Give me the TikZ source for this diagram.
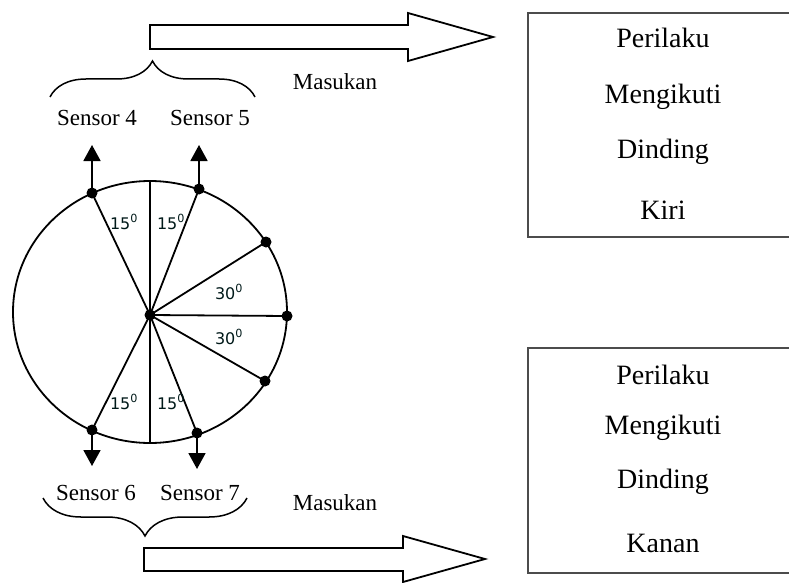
\documentclass[tikz,border=0pt]{standalone}
\usepackage{fontspec}
\setmainfont{Liberation Serif}
\newfontfamily\anglefont{DejaVu Sans}
\usetikzlibrary{arrows.meta,decorations.pathreplacing}

\tikzset{
  line/.style={line width=1.8pt},
  sensordot/.style={circle,fill=black,inner sep=0pt,minimum size=11pt},
  sensorarrow/.style={line width=1.8pt,-{Triangle[width=17pt,length=16pt]}},
  sensorlabel/.style={font=\fontsize{23}{26}\selectfont},
  anglelabel/.style={font=\anglefont\fontsize{16}{18}\selectfont,text=black!80!teal},
  boxtext/.style={font=\fontsize{28}{32}\selectfont},
  behaviourbox/.style={draw=black!70,line width=2.2pt},
  blockarrow/.style={draw,line width=1.8pt,fill=white},
  inputbrace/.style={line width=1.5pt,decorate},
}

\begin{document}
\begin{tikzpicture}[x=1pt,y=-1pt]
  \useasboundingbox (0,0) rectangle (789,583);
  \clip (0,0) rectangle (789,583);

  % robot body and sensor directions
  \draw[line] (150,312) ellipse [x radius=137,y radius=131];
  \coordinate (top) at (150,181);
  \coordinate (bottom) at (150,443);
  \draw[line] (top) -- (bottom);
  \node[sensordot] (C) at (150,315) {};
  \node[sensordot] (S4) at (92,193) {};
  \node[sensordot] (S5) at (199,189) {};
  \node[sensordot] (R1) at (266,242) {};
  \node[sensordot] (R2) at (287,316) {};
  \node[sensordot] (R3) at (265,381) {};
  \node[sensordot] (S6) at (92,430) {};
  \node[sensordot] (S7) at (197,433) {};
  \foreach \p in {S4,S5,R1,R2,R3,S6,S7}
    \draw[line] (C.center) -- (\p.center);

  \node[anglelabel] (a1) at (124,222) {15\textsuperscript{0}};
  \node[anglelabel] (a2) at (171,222) {15\textsuperscript{0}};
  \node[anglelabel] (a3) at (229,292) {30\textsuperscript{0}};
  \node[anglelabel] (a4) at (229,337) {30\textsuperscript{0}};
  \node[anglelabel] (a5) at (124,402) {15\textsuperscript{0}};
  \node[anglelabel] (a6) at (171,402) {15\textsuperscript{0}};

  % sensor outputs
  \coordinate (t4) at (92,145);
  \coordinate (t5) at (199,145);
  \coordinate (t6) at (92,466);
  \coordinate (t7) at (197,469);
  \draw[sensorarrow] (S4.center) -- (t4);
  \draw[sensorarrow] (S5.center) -- (t5);
  \draw[sensorarrow] (S6.center) -- (t6);
  \draw[sensorarrow] (S7.center) -- (t7);

  \node[sensorlabel] (L4) at (97,118) {Sensor 4};
  \node[sensorlabel] (L5) at (210,118) {Sensor 5};
  \node[sensorlabel] (L6) at (96,493) {Sensor 6};
  \node[sensorlabel] (L7) at (200,493) {Sensor 7};

  \draw[inputbrace,decoration={brace,amplitude=36pt}] (50,97) -- (255,97);
  \draw[inputbrace,decoration={brace,amplitude=38pt}] (247,498) -- (43,498);

  % inputs to the behaviours
  \draw[blockarrow] (150,25) -- (408,25) -- (408,13) -- (493,37)
    -- (408,61) -- (408,49) -- (150,49) -- cycle;
  \draw[blockarrow] (144,548) -- (403,548) -- (403,536) -- (485,559)
    -- (403,582) -- (403,571) -- (144,571) -- cycle;
  \node[sensorlabel] (M1) at (335,82) {Masukan};
  \node[sensorlabel] (M2) at (335,503) {Masukan};

  % behaviours
  \draw[behaviourbox] (528,13) rectangle (800,237);
  \node[boxtext] (P1) at (663,38) {Perilaku};
  \node[boxtext] (G1) at (663,97) {Mengikuti};
  \node[boxtext] (D1) at (663,152) {Dinding};
  \node[boxtext] (K1) at (663,210) {Kiri};

  \draw[behaviourbox] (528,348) rectangle (800,573);
  \node[boxtext] (P2) at (663,375) {Perilaku};
  \node[boxtext] (G2) at (663,428) {Mengikuti};
  \node[boxtext] (D2) at (663,482) {Dinding};
  \node[boxtext] (K2) at (663,543) {Kanan};
\end{tikzpicture}
\end{document}
